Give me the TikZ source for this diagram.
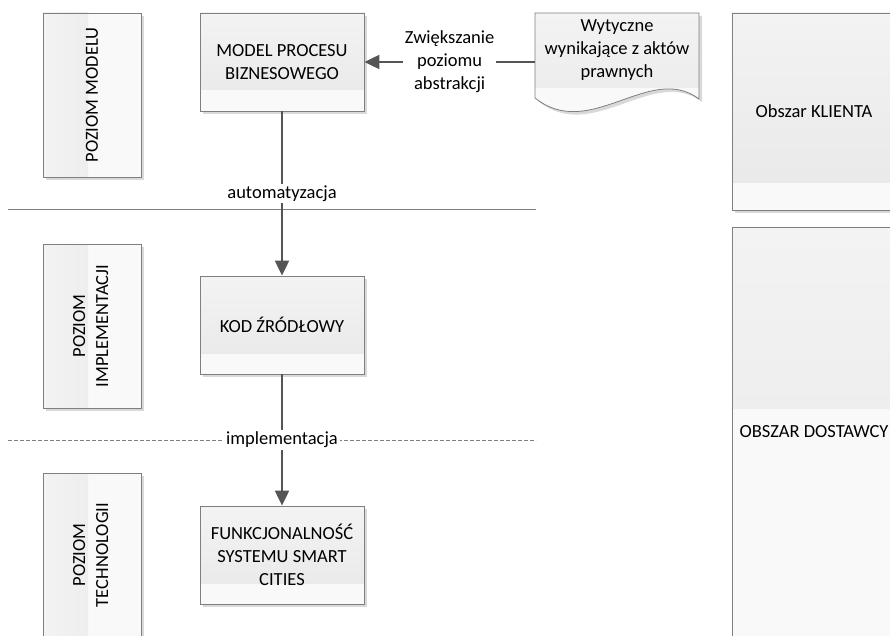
\documentclass[tikz,border=0pt]{standalone}
\usepackage{fontspec}
\setmainfont{Carlito}
\usepackage{tikz}
\usetikzlibrary{calc}
\usetikzlibrary{shadows}
\usetikzlibrary{arrows.meta}
\definecolor{boxline}{HTML}{7F7F7F}
\definecolor{arrowgray}{HTML}{555555}
\definecolor{topgray}{HTML}{F3F3F3}
\definecolor{botgray}{HTML}{E8E8E8}
\definecolor{bandgray}{HTML}{F9F9F9}
\tikzset{
  txt/.style={font=\fontsize{18.5}{23}\selectfont, align=center},
  shadowed/.style={drop shadow={shadow xshift=3pt, shadow yshift=-3pt, fill=black!15, opacity=1}},
  box/.style={txt, draw=boxline, line width=0.8pt, fill=bandgray, shadowed, minimum width=164, minimum height=98,
    path picture={\shade[top color=topgray, bottom color=botgray] (path picture bounding box.north west) rectangle ([yshift=#1]path picture bounding box.south east);}},
  box/.default=21pt,
  lvlbox/.style={txt, draw=boxline, line width=0.8pt, fill=bandgray, shadowed, minimum width=98, minimum height=164,
    path picture={\shade[left color=topgray, right color=botgray] (path picture bounding box.north west) rectangle ([xshift=45pt]path picture bounding box.south west);}},
  docshape/.style={draw=boxline, line width=0.8pt, fill=bandgray, shadowed,
    path picture={\shade[top color=topgray, bottom color=botgray] (path picture bounding box.north west) rectangle ([yshift=-75pt]path picture bounding box.north east);}},
  flow/.style={draw=arrowgray, line width=2pt, -{Triangle[length=15pt, width=14pt]}},
  lbl/.style={txt, fill=white, inner sep=2pt},
  sep/.style={draw=boxline, line width=0.9pt},
}
\begin{document}
\begin{tikzpicture}[x=1pt, y=-1pt]
\useasboundingbox (0,0) rectangle (890,636);

% separators between the levels
\coordinate (sepA) at (8,209);
\coordinate (sepB) at (536,209);
\coordinate (sepC) at (8,440);
\coordinate (sepD) at (536,440);
\draw[sep] (sepA) -- (sepB);
\draw[sep, line width=0.7pt, dash pattern=on 4pt off 2pt] (sepC) -- (sepD);

% levels
\node[lvlbox] (lvlmodel) at (92,95) {\rotatebox{90}{POZIOM MODELU}};
\node[lvlbox] (lvlimpl) at (92,326) {\rotatebox{90}{\begin{tabular}{@{}c@{}}POZIOM\\IMPLEMENTACJI\end{tabular}}};
\node[lvlbox] (lvltech) at (92,555) {\rotatebox{90}{\begin{tabular}{@{}c@{}}POZIOM\\TECHNOLOGII\end{tabular}}};

% main column
\node[box] (model) at (282,62) {MODEL PROCESU\\BIZNESOWEGO};
\node[box] (code) at (282,325) {KOD ŹRÓDŁOWY};
\node[box] (func) at (282,555) {FUNKCJONALNOŚĆ\\SYSTEMU SMART\\CITIES};

% document
\draw[docshape] (535,13) -- (699,13) -- (699,99) .. controls (650,62) and (590,142) .. (535,98) -- cycle;
\node[txt, minimum width=164, minimum height=74] (guide) at (617,50) {Wytyczne\\wynikające z aktów\\prawnych};

% areas
\node[box=27pt, minimum height=197] (client) at (814,111.5) {Obszar KLIENTA};
\node[box=229pt, minimum height=410] (supplier) at (814,432) {OBSZAR DOSTAWCY};

\draw[flow] (guide.west |- model.east) -- node[lbl] (abstr) {Zwiększanie\\poziomu\\abstrakcji} (model.east);
\draw[flow] (model) -- node[lbl] (auto) {automatyzacja} (code);
\draw[flow] (code) -- node[lbl] (impl) {implementacja} (func);

\end{tikzpicture}
\end{document}
